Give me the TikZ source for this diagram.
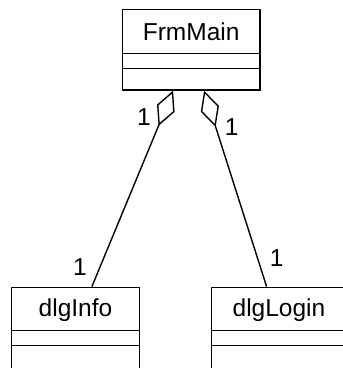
\documentclass[tikz,border=0pt]{standalone}
\usepackage{fontspec}
\setmainfont{Liberation Sans}
\usetikzlibrary{arrows.meta,calc}
\begin{document}
\begin{tikzpicture}[x=1pt,y=-1pt,
  line width=1.4pt,
  classbox/.style={draw, rectangle, inner sep=0pt},
  classname/.style={anchor=base, font=\fontsize{24.5}{28}\selectfont, inner sep=0pt},
  mult/.style={font=\fontsize{24.5}{28}\selectfont, inner sep=0pt},
  aggr/.style={-{Diamond[open,length=38pt,width=19pt]}},
]
\useasboundingbox (0,0) rectangle (343,368);
\clip (0,0) rectangle (343,368);

% class FrmMain
\node[classbox, minimum width=137.7pt, minimum height=80.7pt] (main) at (191.15,49.65) {};
\node[classname] (mainname) at (191.15,40.7) {FrmMain};
\draw (main.north west) ++(0,45) -- ++(137.7,0);
\draw (main.north west) ++(0,59.7) -- ++(137.7,0);

% class dlgInfo
\node[classbox, minimum width=127.6pt, minimum height=112.7pt] (info) at (75.5,343.65) {};
\node[classname] (infoname) at (75.5,316.7) {dlgInfo};
\draw (info.north west) ++(0,43.7) -- ++(127.6,0);
\draw (info.north west) ++(0,59) -- ++(127.6,0);

% class dlgLogin
\node[classbox, minimum width=134.6pt, minimum height=112.7pt] (login) at (279,343.65) {};
\node[classname] (loginname) at (279,316.7) {dlgLogin};
\draw (login.north west) ++(0,43.7) -- ++(134.6,0);
\draw (login.north west) ++(0,59) -- ++(134.6,0);

% aggregation ends
\coordinate (mainL) at ($(main.south west)!0.37!(main.south east)$);
\coordinate (mainR) at ($(main.south west)!0.593!(main.south east)$);
\coordinate (infoTop) at ($(info.north west)!0.627!(info.north east)$);
\coordinate (loginTop) at ($(login.north west)!0.409!(login.north east)$);

\draw[aggr] (infoTop) -- (mainL);
\draw[aggr] (loginTop) -- (mainR);

% multiplicities
\node[mult] (m1) at (144,116.7) {1};
\node[mult] (m2) at (231.7,127.3) {1};
\node[mult] (m3) at (80,267) {1};
\node[mult] (m4) at (276.7,258.3) {1};
\end{tikzpicture}
\end{document}
